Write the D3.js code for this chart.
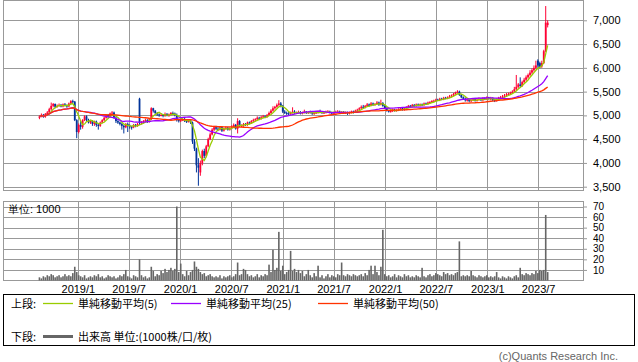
<!DOCTYPE html>
<html>
<head>
<meta charset="utf-8">
<script src="https://d3js.org/d3.v7.min.js"></script>
<style>
body { margin: 0; background: #fff; }
text { font-family: "Liberation Sans", Arial, sans-serif; fill: #000; }
.jp { font-family: "Noto Sans CJK JP", sans-serif; }
.axis path { display: none; }
</style>
</head>
<body>
<div id="chart"></div>
<script>
// weekly candles, the first week ends on 2018/8/17
var firstWeek = new Date(2018, 7, 17);

var opens = [4950,4980,5010,4970,5030,5060,5130,5200,5240,5180,
 5200,5220,5190,5230,5210,5190,5250,5300,5290,4900,
 4650,4800,4760,4900,4980,4900,4850,4880,4820,4870,
 4800,4780,4850,4900,4950,5000,4980,5040,5060,4950,
 4880,4850,4820,4780,4750,4820,4790,4760,4750,4800,
 4780,5350,4840,4850,4880,4900,4870,4920,5150,5100,
 5050,5020,5000,5010,4990,5030,5000,5020,5050,5040,
 5010,4900,4880,4900,4920,4880,4870,4900,4850,4450,
 4300,3950,3800,4000,4250,4150,4350,4500,4600,4700,
 4750,4720,4700,4750,4680,4720,4740,4700,4730,4760,
 4800,4720,4880,4780,4780,4820,4800,4850,4830,4880,
 4900,4920,4950,4930,4960,4980,4970,5000,5050,5100,
 5150,5180,5220,5250,5200,5080,5050,5040,5030,5060,
 5080,5050,5060,5070,5040,5060,5080,5050,5070,5060,
 5040,5050,5060,5080,5070,5050,5060,5070,5080,5060,
 5050,5060,5070,5080,5060,5070,5050,5060,5040,5060,
 5080,5060,5100,5120,5150,5180,5170,5200,5230,5200,
 5250,5220,5240,5270,5230,5260,5200,5150,5100,5080,
 5090,5120,5100,5110,5130,5150,5120,5150,5170,5200,
 5190,5220,5200,5230,5210,5230,5220,5250,5240,5270,
 5280,5300,5310,5330,5320,5350,5340,5370,5360,5380,
 5400,5420,5450,5480,5500,5430,5380,5350,5320,5330,
 5300,5320,5340,5310,5330,5350,5320,5360,5340,5380,
 5350,5360,5320,5300,5340,5370,5380,5400,5420,5440,
 5450,5470,5500,5550,5600,5650,5620,5700,5750,5800,
 5850,5900,5950,6000,6150,6100,6030,6100,6350,6900];

var closes = [4980,5010,4970,5030,5060,5130,5200,5240,5180,5200,
 5220,5190,5230,5210,5190,5250,5300,5290,4900,4650,
 4800,4760,4900,4980,4900,4850,4880,4820,4870,4800,
 4780,4850,4900,4950,5000,4980,5040,5060,4950,4880,
 4850,4820,4780,4750,4820,4790,4760,4750,4800,4780,
 4820,4840,4850,4880,4900,4870,4920,5150,5100,5050,
 5020,5000,5010,4990,5030,5000,5020,5050,5040,5010,
 4900,4880,4900,4920,4880,4870,4900,4850,4450,4300,
 3950,3900,4000,4250,4150,4350,4500,4600,4700,4750,
 4720,4700,4750,4680,4720,4740,4700,4730,4760,4800,
 4720,4880,4780,4780,4820,4800,4850,4830,4880,4900,
 4920,4950,4930,4960,4980,4970,5000,5050,5100,5150,
 5180,5220,5250,5200,5080,5050,5040,5030,5060,5080,
 5050,5060,5070,5040,5060,5080,5050,5070,5060,5040,
 5050,5060,5080,5070,5050,5060,5070,5080,5060,5050,
 5060,5070,5080,5060,5070,5050,5060,5040,5060,5080,
 5060,5100,5120,5150,5180,5170,5200,5230,5200,5250,
 5220,5240,5270,5230,5260,5200,5150,5100,5080,5090,
 5120,5100,5110,5130,5150,5120,5150,5170,5200,5190,
 5220,5200,5230,5210,5230,5220,5250,5240,5270,5280,
 5300,5310,5330,5320,5350,5340,5370,5360,5380,5400,
 5420,5450,5480,5500,5430,5380,5350,5320,5330,5300,
 5320,5340,5310,5330,5350,5320,5360,5340,5380,5350,
 5360,5320,5300,5340,5370,5380,5400,5420,5440,5450,
 5470,5500,5550,5600,5650,5620,5700,5750,5800,5850,
 5900,5950,6000,6050,6050,6020,6100,6350,6950,6950];

var highs = [5000,5040,5030,5050,5090,5160,5270,5260,5250,5230,
 5250,5240,5250,5260,5230,5270,5320,5330,5300,4920,
 4830,4880,4920,5000,5000,4930,4900,4900,4890,4890,
 4830,4870,4920,4970,5020,5030,5060,5090,5080,4970,
 4900,4870,4840,4800,4840,4850,4810,4780,4820,4820,
 4840,5370,4880,4900,4930,4920,4940,5170,5160,5110,
 5070,5040,5040,5030,5060,5050,5040,5070,5080,5060,
 5040,4930,4920,4940,4950,4910,4920,4920,4870,4500,
 4320,4100,4050,4280,4300,4380,4530,4640,4730,4780,
 4780,4760,4770,4760,4740,4770,4760,4750,4790,4830,
 4820,4940,4900,4810,4840,4840,4870,4870,4900,4930,
 4940,4980,4970,4990,5010,5000,5030,5080,5130,5190,
 5200,5250,5320,5280,5220,5110,5080,5070,5080,5170,
 5110,5080,5100,5090,5080,5120,5090,5090,5100,5080,
 5070,5090,5100,5120,5090,5080,5100,5110,5100,5080,
 5080,5100,5110,5100,5090,5090,5080,5080,5080,5100,
 5100,5120,5140,5170,5210,5220,5220,5260,5250,5280,
 5270,5260,5300,5290,5330,5280,5220,5170,5120,5110,
 5140,5140,5130,5150,5170,5170,5170,5190,5220,5220,
 5240,5240,5250,5250,5250,5250,5270,5270,5290,5300,
 5320,5330,5350,5350,5370,5370,5390,5390,5400,5430,
 5440,5470,5500,5530,5520,5450,5400,5380,5350,5350,
 5340,5360,5370,5350,5380,5370,5380,5380,5400,5390,
 5390,5380,5340,5360,5390,5410,5430,5450,5470,5480,
 5500,5530,5600,5850,5680,5800,5730,5790,5840,5880,
 5950,5990,6050,6150,6180,6130,6150,6380,7300,7000];

var lows = [4920,4960,4950,4950,5010,5040,5100,5170,5150,5160,
 5180,5170,5170,5190,5160,5170,5230,5260,4880,4520,
 4620,4700,4720,4880,4870,4830,4820,4780,4780,4760,
 4700,4760,4830,4880,4930,4950,4960,5020,4930,4840,
 4820,4790,4700,4620,4730,4650,4720,4700,4730,4750,
 4760,4800,4810,4830,4860,4840,4850,4900,5060,5020,
 4990,4970,4980,4960,4970,4980,4970,5000,5010,4980,
 4870,4850,4860,4880,4860,4840,4850,4820,4400,4250,
 3800,3520,3730,3950,4100,4120,4330,4480,4580,4670,
 4690,4670,4680,4650,4660,4700,4680,4680,4710,4740,
 4700,4620,4760,4750,4760,4780,4780,4810,4820,4860,
 4870,4900,4900,4910,4940,4940,4950,4990,5030,5080,
 5120,5160,5200,5170,5050,5030,5010,5000,5010,5040,
 5030,5030,5040,5020,5020,5040,5030,5030,5040,5010,
 5010,5030,5040,5050,5030,5030,5040,5050,5040,5020,
 5030,5040,5050,5040,5040,5030,5030,5010,5020,5040,
 5040,5050,5080,5100,5130,5140,5150,5180,5180,5190,
 5200,5200,5220,5200,5210,5180,5130,5080,5060,5060,
 5070,5080,5080,5090,5110,5100,5100,5130,5150,5170,
 5170,5180,5180,5190,5190,5200,5200,5220,5220,5250,
 5260,5280,5290,5300,5300,5320,5320,5340,5340,5360,
 5380,5400,5430,5460,5410,5360,5330,5290,5290,5280,
 5280,5300,5290,5290,5310,5300,5300,5320,5320,5330,
 5320,5300,5280,5290,5320,5350,5360,5380,5400,5420,
 5430,5450,5480,5520,5570,5590,5600,5680,5720,5770,
 5820,5870,5920,5970,6000,5990,6000,6080,6330,6850];

// volume in 1000 shares
var volumes = [3,2,4,3,5,4,6,5,3,4,
 5,3,4,6,4,5,4,7,13,8,
 5,4,3,5,2,3,4,3,5,4,
 6,3,4,2,3,5,4,3,4,2,
 3,5,4,6,10,4,3,2,5,4,
 3,20,5,3,4,2,3,13,9,4,
 6,5,9,7,11,8,10,12,9,11,
 70,8,16,6,4,9,5,8,10,18,
 13,11,8,6,7,4,5,6,4,3,
 4,3,5,2,4,3,4,5,3,4,
 6,17,5,6,11,10,6,4,5,3,
 4,6,3,5,4,6,5,15,8,29,
 10,12,46,9,14,6,8,10,28,9,
 11,8,10,7,9,4,6,10,5,3,
 7,4,14,3,5,2,4,6,3,5,
 4,3,6,5,17,5,4,6,5,4,
 6,5,4,5,6,4,7,5,10,14,
 6,14,8,5,13,48,6,4,5,3,
 4,6,3,5,4,3,6,4,5,3,
 4,3,5,4,3,12,4,3,5,6,
 4,5,7,6,5,4,8,6,7,5,
 6,5,7,8,37,4,5,4,5,4,
 9,5,4,3,5,4,3,4,5,3,
 4,3,4,8,3,2,4,3,2,4,
 3,2,4,5,3,12,6,5,7,6,
 5,7,6,9,7,10,9,10,62,8];

var priceTicks = [3500, 4000, 4500, 5000, 5500, 6000, 6500, 7000];
var volumeTicks = [10, 20, 30, 40, 50, 60, 70];
var dateLabels = ["2019/1", "2019/7", "2020/1", "2020/7", "2021/1", "2021/7", "2022/1", "2022/7", "2023/1", "2023/7"];
var maPeriods = [5, 25, 50];
var maColors = ["#99cc00", "#9900ff", "#ff3300"];
var maNames = ["単純移動平均(5)", "単純移動平均(25)", "単純移動平均(50)"];

var weeks = closes.map(function(d, i) { return d3.timeDay.offset(firstWeek, 7 * i); });
var parseLabel = d3.timeParse("%Y/%m");
var tickDates = dateLabels.map(function(d) { return parseLabel(d); });

// simple moving average (uses what is available at the start)
function sma(values, n) {
  return values.map(function(d, i) {
    var part = values.slice(Math.max(0, i - n + 1), i + 1);
    return d3.mean(part);
  });
}

var svg = d3.select("#chart")
  .append("svg")
  .attr("width", 638)
  .attr("height", 362);

var left = 3, right = 583;

var xscale = d3.scaleTime()
  .domain([new Date(2018, 3, 9), new Date(2023, 11, 8)])
  .range([left, right]);

var yprice = d3.scaleLinear()
  .domain([3500, 7000]).range([186.7, 20.3]);

var yvol = d3.scaleLinear()
  .domain([0, 70]).range([280.5, 206.5]);

// panels: gridlines and frames
function panel(top, bottom, yscale, ticks) {
  var g = svg.append("g");
  g.selectAll(".hgrid").data(ticks).enter()
    .append("line")
    .attr("x1", left).attr("x2", right)
    .attr("y1", function(d) { return Math.round(yscale(d)) + 0.5; })
    .attr("y2", function(d) { return Math.round(yscale(d)) + 0.5; })
    .attr("stroke", "#999").attr("stroke-width", 1);
  g.selectAll(".vgrid").data(tickDates).enter()
    .append("line")
    .attr("x1", function(d) { return Math.round(xscale(d)) + 0.5; })
    .attr("x2", function(d) { return Math.round(xscale(d)) + 0.5; })
    .attr("y1", top).attr("y2", bottom)
    .attr("stroke", "#999").attr("stroke-width", 1);
  g.append("rect")
    .attr("x", left + 0.5).attr("y", top)
    .attr("width", right - left).attr("height", bottom - top)
    .attr("fill", "none").attr("stroke", "#999").attr("stroke-width", 1);
}
panel(0.5, 190.5, yprice, priceTicks);
panel(201.5, 280.5, yvol, volumeTicks);

// candles
var candles = svg.append("g").selectAll("g").data(closes).enter().append("g");
candles.append("line")
  .attr("x1", function(d, i) { return xscale(weeks[i]); })
  .attr("x2", function(d, i) { return xscale(weeks[i]); })
  .attr("y1", function(d, i) { return yprice(highs[i]); })
  .attr("y2", function(d, i) { return yprice(lows[i]); })
  .attr("stroke", function(d, i) { return d >= opens[i] ? "#ff0033" : "#003399"; })
  .attr("stroke-width", 1);
candles.append("rect")
  .attr("x", function(d, i) { return xscale(weeks[i]) - 0.9; })
  .attr("width", 1.8)
  .attr("y", function(d, i) { return yprice(Math.max(d, opens[i])); })
  .attr("height", function(d, i) { return Math.max(1, Math.abs(yprice(d) - yprice(opens[i]))); })
  .attr("fill", function(d, i) { return d >= opens[i] ? "#ff0033" : "#003399"; });

// moving averages
maPeriods.forEach(function(n, k) {
  var ma = sma(closes, n);
  svg.append("path")
    .datum(ma)
    .attr("fill", "none")
    .attr("stroke", maColors[k])
    .attr("stroke-width", 1.3)
    .attr("d", d3.line()
      .x(function(d, i) { return xscale(weeks[i]); })
      .y(function(d) { return yprice(d); }));
});

// volume bars
svg.append("g").selectAll("rect").data(volumes).enter()
  .append("rect")
  .attr("x", function(d, i) { return xscale(weeks[i]) - 0.8; })
  .attr("width", 1.6)
  .attr("y", function(d) { return yvol(d); })
  .attr("height", function(d) { return yvol(0) - yvol(d); })
  .attr("fill", "#666");

// right axes
svg.append("g")
  .attr("class", "axis")
  .attr("transform", "translate(" + right + ",0)")
  .call(d3.axisRight(yprice).tickValues(priceTicks).tickFormat(d3.format(",")).tickSize(4).tickPadding(6))
  .call(function(g) {
    g.selectAll("line").attr("stroke", "#999");
    g.selectAll("text").style("font-size", "11px").attr("font-family", null);
  });

svg.append("g")
  .attr("class", "axis")
  .attr("transform", "translate(" + right + ",0)")
  .call(d3.axisRight(yvol).tickValues(volumeTicks).tickSize(4).tickPadding(6))
  .call(function(g) {
    g.selectAll("line").attr("stroke", "#999");
    g.selectAll("text").style("font-size", "10px").attr("font-family", null);
  });

// date labels
svg.append("g")
  .attr("class", "axis")
  .attr("transform", "translate(0,281)")
  .call(d3.axisBottom(xscale).tickValues(tickDates).tickFormat(function(d, i) { return dateLabels[i]; }).tickSize(0).tickPadding(4))
  .call(function(g) {
    g.selectAll("text").style("font-size", "11px").attr("font-family", null);
  });

svg.append("text")
  .attr("x", 8).attr("y", 213)
  .style("font-size", "11px")
  .text("単位: 1000");

// legend
svg.append("rect")
  .attr("x", 3.5).attr("y", 294.5)
  .attr("width", 631).attr("height", 51)
  .attr("fill", "none").attr("stroke", "#000");

svg.append("text").attr("class", "jp")
  .attr("x", 11).attr("y", 308).style("font-size", "11px").text("上段:");
var legendX = [43, 171, 318];
maNames.forEach(function(name, k) {
  svg.append("line")
    .attr("x1", legendX[k]).attr("x2", legendX[k] + 30)
    .attr("y1", 303.5).attr("y2", 303.5)
    .attr("stroke", maColors[k]).attr("stroke-width", 1.3);
  svg.append("text").attr("class", "jp")
    .attr("x", legendX[k] + 35).attr("y", 308)
    .style("font-size", "11px")
    .text(name);
});

svg.append("text").attr("class", "jp")
  .attr("x", 11).attr("y", 341).style("font-size", "11px").text("下段:");
svg.append("line")
  .attr("x1", 43).attr("x2", 73)
  .attr("y1", 336.5).attr("y2", 336.5)
  .attr("stroke", "#666").attr("stroke-width", 3);
svg.append("text").attr("class", "jp")
  .attr("x", 78).attr("y", 341).style("font-size", "11px")
  .text("出来高 単位:(1000株/口/枚)");

// credit
svg.append("text")
  .attr("x", 618).attr("y", 360)
  .attr("text-anchor", "end")
  .style("font-size", "11px")
  .style("fill", "#666")
  .text("(c)Quants Research Inc.");
</script>
</body>
</html>
